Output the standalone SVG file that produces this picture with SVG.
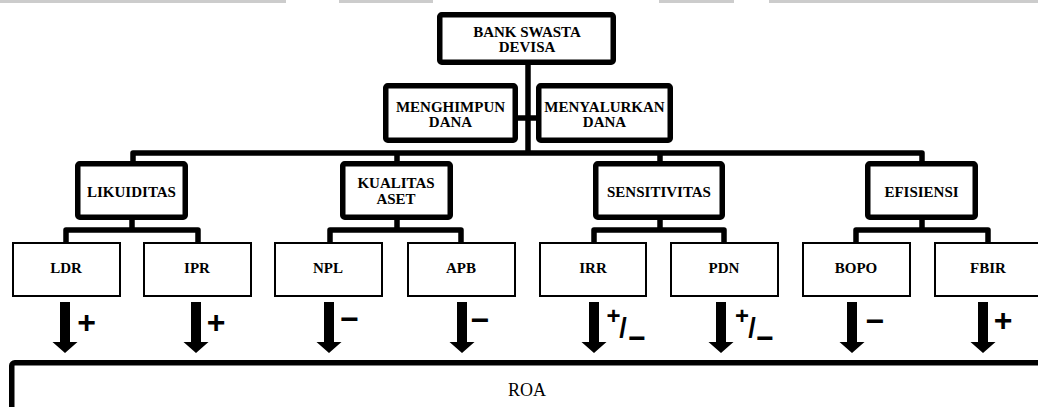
<svg xmlns="http://www.w3.org/2000/svg" width="1038" height="407" viewBox="0 0 1038 407">
<style>
.bg{fill:#cccccc}
.thick{fill:#ffffff;stroke:#000;stroke-width:5.5;stroke-linejoin:round}
.thin{fill:#ffffff;stroke:#000;stroke-width:2}
.con{fill:none;stroke:#000;stroke-width:5.5;stroke-linejoin:round}
.t{font-family:"Liberation Serif","Times New Roman",serif;font-weight:bold;font-size:15px;text-anchor:middle;fill:#000}
.roa{font-family:"Liberation Serif","Times New Roman",serif;font-size:18px;text-anchor:middle;fill:#000}
.s{font-family:"Liberation Sans",Arial,sans-serif;font-weight:bold;font-size:32px;text-anchor:middle;fill:#000}
.sm{font-family:"Liberation Sans",Arial,sans-serif;font-weight:bold;font-size:30px;text-anchor:middle;fill:#000}
.sp{font-family:"Liberation Sans",Arial,sans-serif;font-weight:bold;font-size:24px;text-anchor:middle;fill:#000}
.sl{font-family:"Liberation Sans",Arial,sans-serif;font-weight:bold;font-size:27px;text-anchor:middle;fill:#000}
.arr{fill:#000}
</style>
<defs>
<polygon id="arrow" points="-5,0 5,0 5,40 12.5,40 0,51 -12.5,40 -5,40"/>
</defs>
<g id="topbars">
<rect class="bg" x="0" y="0" width="286" height="3"/>
<rect class="bg" x="339" y="0" width="94" height="3"/>
<rect class="bg" x="659" y="0" width="75" height="3"/>
<rect class="bg" x="769" y="0" width="269" height="3"/>
</g>
<g id="connectors">
<path class="con" d="M528 63 V153"/>
<path class="con" d="M516 118 H538"/>
<path class="con" d="M133 163 V153 H922 V163"/>
<path class="con" d="M397 153 V163 M660 153 V163"/>
<path class="con" d="M132 218 V230 M66 242 V230 H198 V242"/>
<path class="con" d="M397 218 V230 M330 242 V230 H461 V242"/>
<path class="con" d="M660 218 V230 M594 242 V230 H724 V242"/>
<path class="con" d="M922 218 V230 M856 242 V230 H988 V242"/>
<g class="arr">
<use href="#arrow" x="65" y="302"/>
<use href="#arrow" x="196" y="302"/>
<use href="#arrow" x="329" y="302"/>
<use href="#arrow" x="462" y="302"/>
<use href="#arrow" x="594" y="302"/>
<use href="#arrow" x="721" y="302"/>
<use href="#arrow" x="852" y="302"/>
<use href="#arrow" x="983" y="302"/>
</g>
</g>
<g id="signs">
<text class="s" x="86.5" y="333">+</text>
<text class="s" x="216" y="333">+</text>
<text class="s" x="349.5" y="329.5">−</text>
<text class="s" x="480" y="330.5">−</text>
<text class="s" x="875" y="331.5">−</text>
<text class="s" x="1003" y="331">+</text>
<text class="sp" x="613.5" y="323.5">+</text>
<text class="sl" x="623" y="337">/</text>
<text class="sm" x="637" y="347.5">−</text>
<text class="sp" x="742" y="323.5">+</text>
<text class="sl" x="752" y="337">/</text>
<text class="sm" x="765" y="347.5">−</text>
</g>
<g id="bank">
<rect class="thick" x="439.75" y="14.75" width="173.5" height="47.5" rx="2"/>
<text class="t" x="527" y="37">BANK SWASTA</text>
<text class="t" x="527" y="52">DEVISA</text>
</g>
<g id="menghimpun">
<rect class="thick" x="385.75" y="85.75" width="129.5" height="54.5" rx="2"/>
<text class="t" x="450.5" y="112">MENGHIMPUN</text>
<text class="t" x="450.5" y="127">DANA</text>
</g>
<g id="menyalurkan">
<rect class="thick" x="538.75" y="85.75" width="131.5" height="54.5" rx="2"/>
<text class="t" x="604.5" y="112">MENYALURKAN</text>
<text class="t" x="604.5" y="127">DANA</text>
</g>
<g id="likuiditas">
<rect class="thick" x="77.75" y="163.75" width="107.5" height="53.5" rx="2"/>
<text class="t" x="131.5" y="197">LIKUIDITAS</text>
</g>
<g id="kualitas">
<rect class="thick" x="342.75" y="163.75" width="107.5" height="53.5" rx="2"/>
<text class="t" x="396" y="188">KUALITAS</text>
<text class="t" x="396" y="204">ASET</text>
</g>
<g id="sensitivitas">
<rect class="thick" x="595.75" y="163.75" width="126.5" height="53.5" rx="2"/>
<text class="t" x="659" y="197">SENSITIVITAS</text>
</g>
<g id="efisiensi">
<rect class="thick" x="867.75" y="163.75" width="107.5" height="53.5" rx="2"/>
<text class="t" x="921.5" y="197">EFISIENSI</text>
</g>
<g id="ldr"><rect class="thin" x="13" y="243" width="107" height="53"/><text class="t" x="66" y="273">LDR</text></g>
<g id="ipr"><rect class="thin" x="144" y="243" width="107" height="53"/><text class="t" x="197" y="273">IPR</text></g>
<g id="npl"><rect class="thin" x="275" y="243" width="107" height="53"/><text class="t" x="328" y="273">NPL</text></g>
<g id="apb"><rect class="thin" x="408" y="243" width="107" height="53"/><text class="t" x="461" y="273">APB</text></g>
<g id="irr"><rect class="thin" x="540" y="243" width="106" height="53"/><text class="t" x="593" y="273">IRR</text></g>
<g id="pdn"><rect class="thin" x="671" y="243" width="107" height="53"/><text class="t" x="724" y="273">PDN</text></g>
<g id="bopo"><rect class="thin" x="803" y="243" width="107" height="53"/><text class="t" x="856" y="273">BOPO</text></g>
<g id="fbir"><rect class="thin" x="935" y="243" width="110" height="53"/><text class="t" x="988" y="273">FBIR</text></g>
<g id="roa">
<rect class="thick" x="11.75" y="362.75" width="1040" height="60" rx="3"/>
<text class="roa" x="527" y="396">ROA</text>
</g>
</svg>
